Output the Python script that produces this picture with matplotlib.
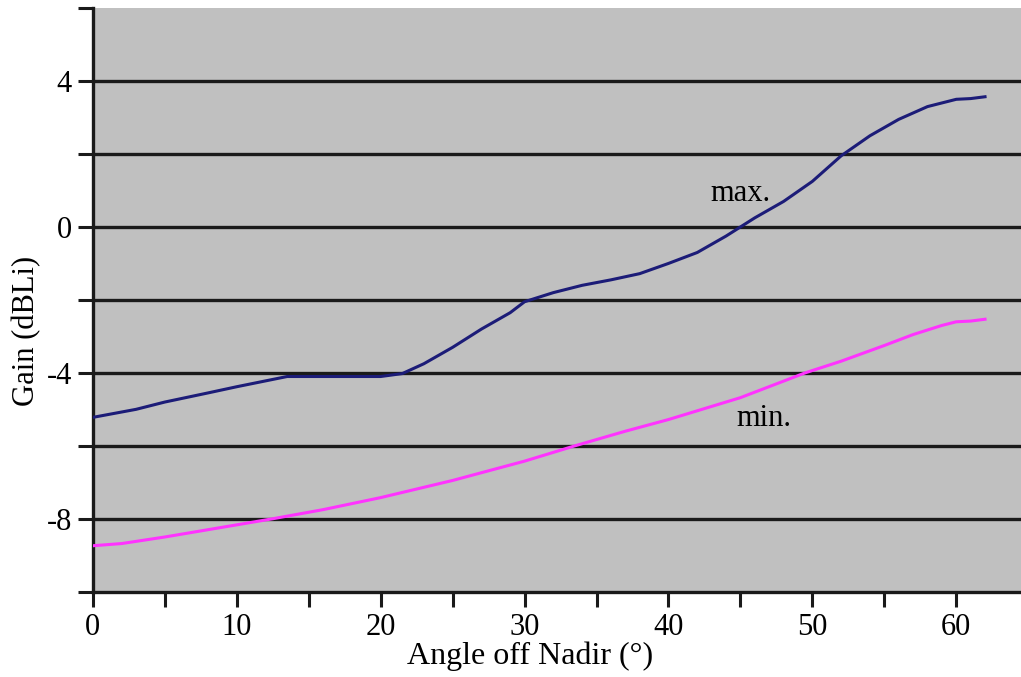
import matplotlib.pyplot as plt
from matplotlib.ticker import MultipleLocator

# values
angle = [0, 3, 5, 8, 10, 13.5, 20, 21.5, 23, 25, 27, 29, 30, 32, 34, 36, 38,
         40, 42, 44, 46, 48, 50, 52, 54, 56, 58, 60, 61, 62]
gain_max = [-5.22, -5.0, -4.8, -4.55, -4.38, -4.1, -4.1, -4.02, -3.75, -3.3,
            -2.8, -2.35, -2.05, -1.8, -1.6, -1.45, -1.28, -1.0, -0.7, -0.25,
            0.25, 0.7, 1.25, 1.95, 2.5, 2.95, 3.3, 3.5, 3.52, 3.57]

angle_min = [0, 2, 5, 8, 12.5, 16, 20, 25, 30, 33.5, 37, 40, 45, 49.5, 52,
             55, 57, 59, 60, 61, 62]
gain_min = [-8.74, -8.68, -8.5, -8.3, -8.0, -7.75, -7.42, -6.95, -6.42, -6.0,
            -5.6, -5.28, -4.68, -4.0, -3.68, -3.25, -2.95, -2.7, -2.6, -2.58,
            -2.53]

plt.rcParams['font.family'] = ['Liberation Serif', 'DejaVu Serif']

fig = plt.figure(figsize=(10.21, 6.77), dpi=100)
ax = fig.add_axes([0.091, 0.126, 0.909, 0.862])
ax.set_facecolor('#c0c0c0')

for y in range(-8, 6, 2):
    ax.axhline(y, color='#1a1a1a', lw=2.4, zorder=1)

ax.plot(angle, gain_max, color='#1c1c78', lw=2.2, zorder=3)
ax.plot(angle_min, gain_min, color='#ff33ff', lw=2.2, zorder=3)

ax.text(45, 0.93, 'max.', fontsize=22, ha='center', va='center')
ax.text(46.6, -5.25, 'min.', fontsize=22, ha='center', va='center')

ax.set_xlim(0, 64.5)
ax.set_ylim(-10, 6)
ax.xaxis.set_major_locator(MultipleLocator(5))
ax.yaxis.set_major_locator(MultipleLocator(2))
ax.set_xticklabels([str(int(v)) if v % 10 == 0 else '' for v in ax.get_xticks()])
ax.set_yticklabels([str(int(v)) if v % 4 == 0 and v not in (-10, 6) else ''
                    for v in ax.get_yticks()])
ax.set_xlim(0, 64.5)
ax.set_ylim(-10, 6)

ax.tick_params(axis='both', direction='out', length=11, width=2.2,
               color='#1a1a1a', labelsize=22, pad=4)
for s in ['top', 'right']:
    ax.spines[s].set_visible(False)
for s in ['left', 'bottom']:
    ax.spines[s].set_linewidth(2.4)
    ax.spines[s].set_color('#1a1a1a')

ax.set_xlabel('Angle off Nadir (°)', fontsize=23)
ax.set_ylabel('Gain (dBLi)', fontsize=22)
ax.xaxis.set_label_coords(0.471, -0.086)
ax.yaxis.set_label_coords(-0.056, 0.447)

fig.savefig('out.png', dpi=100)
